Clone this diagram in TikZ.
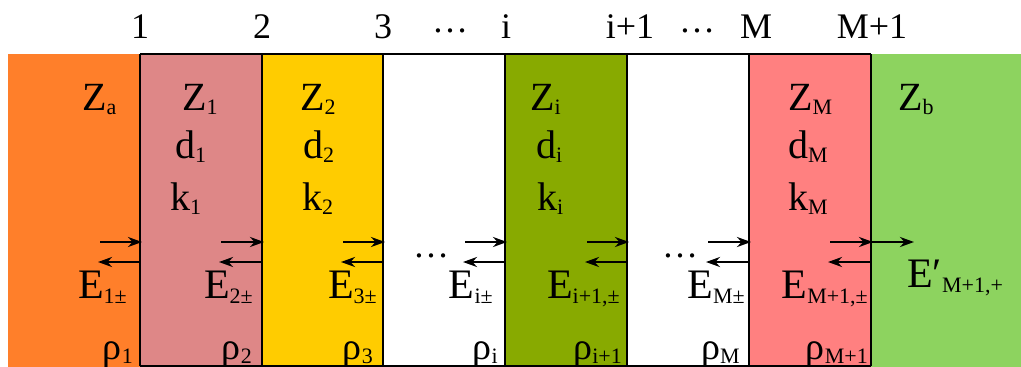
\documentclass[tikz,border=0pt]{standalone}
\usepackage{fontspec}
\setmainfont{Liberation Serif}
\usetikzlibrary{arrows.meta}
\definecolor{layera}{HTML}{FF7F2A}
\definecolor{layerone}{HTML}{DE8787}
\definecolor{layertwo}{HTML}{FFCC00}
\definecolor{layeri}{HTML}{88AA00}
\definecolor{layerm}{HTML}{FF8080}
\definecolor{layerb}{HTML}{8DD35F}
\newcommand\lsub[1]{\raisebox{-0.12em}{\fontsize{22}{22}\selectfont #1}}

\begin{document}
\begin{tikzpicture}[
  x=1pt,
  y=-1pt,
  every node/.style={inner sep=0pt, font=\fontsize{36}{40}\selectfont},
  lbl/.style={anchor=base west, font=\fontsize{40}{44}\selectfont},
  elbl/.style={anchor=base east, font=\fontsize{42}{46}\selectfont},
  rlbl/.style={anchor=base east, font=\fontsize{38}{42}\selectfont},
  numlbl/.style={anchor=base},
  edge/.style={black, line width=1.8pt},
  wave/.style={black, line width=2.4pt, -{Stealth[length=14pt, width=10pt]}}
]
  \useasboundingbox (0,0) rectangle (1021,367);

  %% ---- layers ---------------------------------------------------------
  \fill[layera]   (8,54)   rectangle (140,367);
  \fill[layerone] (140,54) rectangle (262,366);
  \fill[layertwo] (262,54) rectangle (383,366);
  \fill[layeri]   (505,54) rectangle (627,366);
  \fill[layerm]   (749,54) rectangle (871,366);
  \fill[layerb]   (871,54) rectangle (1021,367);

  \draw[edge] (140,54) -- (871,54);
  \draw[edge] (140,366) -- (871,366);
  \foreach \b in {140,262,383,505,627,749,871}
    \draw[edge] (\b,54) -- (\b,366);

  %% ---- interface numbers ----------------------------------------------
  \node[numlbl] (n1)  at (140,38) {1};
  \node[numlbl] (n2)  at (262,38) {2};
  \node[numlbl] (n3)  at (383,38) {3};
  \node[numlbl] (dt1) at (450,32) {…};
  \node[numlbl] (ni)  at (506,38) {i};
  \node[numlbl] (ni1) at (630,38) {i+1};
  \node[numlbl] (dt2) at (697,32) {…};
  \node[numlbl] (nm)  at (756,38) {M};
  \node[numlbl] (nm1) at (872,38) {M+1};

  %% ---- layer parameters -----------------------------------------------
  \node[lbl] (za) at (82,110)  {Z\lsub{a}};
  \node[lbl] (z1) at (182,110) {Z\lsub{1}};
  \node[lbl] (z2) at (300,110) {Z\lsub{2}};
  \node[lbl] (zi) at (530,110) {Z\lsub{i}};
  \node[lbl] (zm) at (788,110) {Z\lsub{M}};
  \node[lbl] (zb) at (898,110) {Z\lsub{b}};

  \node[lbl] (d1) at (175,158) {d\lsub{1}};
  \node[lbl] (d2) at (303,158) {d\lsub{2}};
  \node[lbl] (di) at (536,158) {d\lsub{i}};
  \node[lbl] (dm) at (788,158) {d\lsub{M}};

  \node[lbl] (k1) at (170,210) {k\lsub{1}};
  \node[lbl] (k2) at (302,210) {k\lsub{2}};
  \node[lbl] (ki) at (537,210) {k\lsub{i}};
  \node[lbl] (km) at (788,210) {k\lsub{M}};

  %% ---- waves at the interfaces ----------------------------------------
  \foreach \b/\s in {140/100, 262/221, 383/343, 505/465, 627/587, 749/708, 871/830} {
    \draw[wave] (\s,242) -- (\b+2,242);
    \draw[wave] (\b,262) -- (\s-2,262);
  }
  \draw[wave] (871,242) -- (914,242);

  \node[numlbl] (dt3) at (431,257) {…};
  \node[numlbl] (dt4) at (680,257) {…};

  \node[elbl] (e1)  at (127,298) {E\lsub{1±}};
  \node[elbl] (e2)  at (253,298) {E\lsub{2±}};
  \node[elbl] (e3)  at (377,298) {E\lsub{3±}};
  \node[elbl] (ei)  at (493,298) {E\lsub{i±}};
  \node[elbl] (ei1) at (620,298) {E\lsub{i+1,±}};
  \node[elbl] (em)  at (745,298) {E\lsub{M±}};
  \node[elbl] (em1) at (868,298) {E\lsub{M+1,±}};
  \node[lbl, font=\fontsize{42}{46}\selectfont] (et) at (907,287) {E′\lsub{M+1,+}};

  %% ---- densities ------------------------------------------------------
  \node[rlbl] (r1)  at (133,359) {ρ\lsub{1}};
  \node[rlbl] (r2)  at (252,359) {ρ\lsub{2}};
  \node[rlbl] (r3)  at (373,359) {ρ\lsub{3}};
  \node[rlbl] (ri)  at (498,359) {ρ\lsub{i}};
  \node[rlbl] (ri1) at (622,359) {ρ\lsub{i+1}};
  \node[rlbl] (rm)  at (740,359) {ρ\lsub{M}};
  \node[rlbl] (rm1) at (868,359) {ρ\lsub{M+1}};

\end{tikzpicture}
\end{document}
